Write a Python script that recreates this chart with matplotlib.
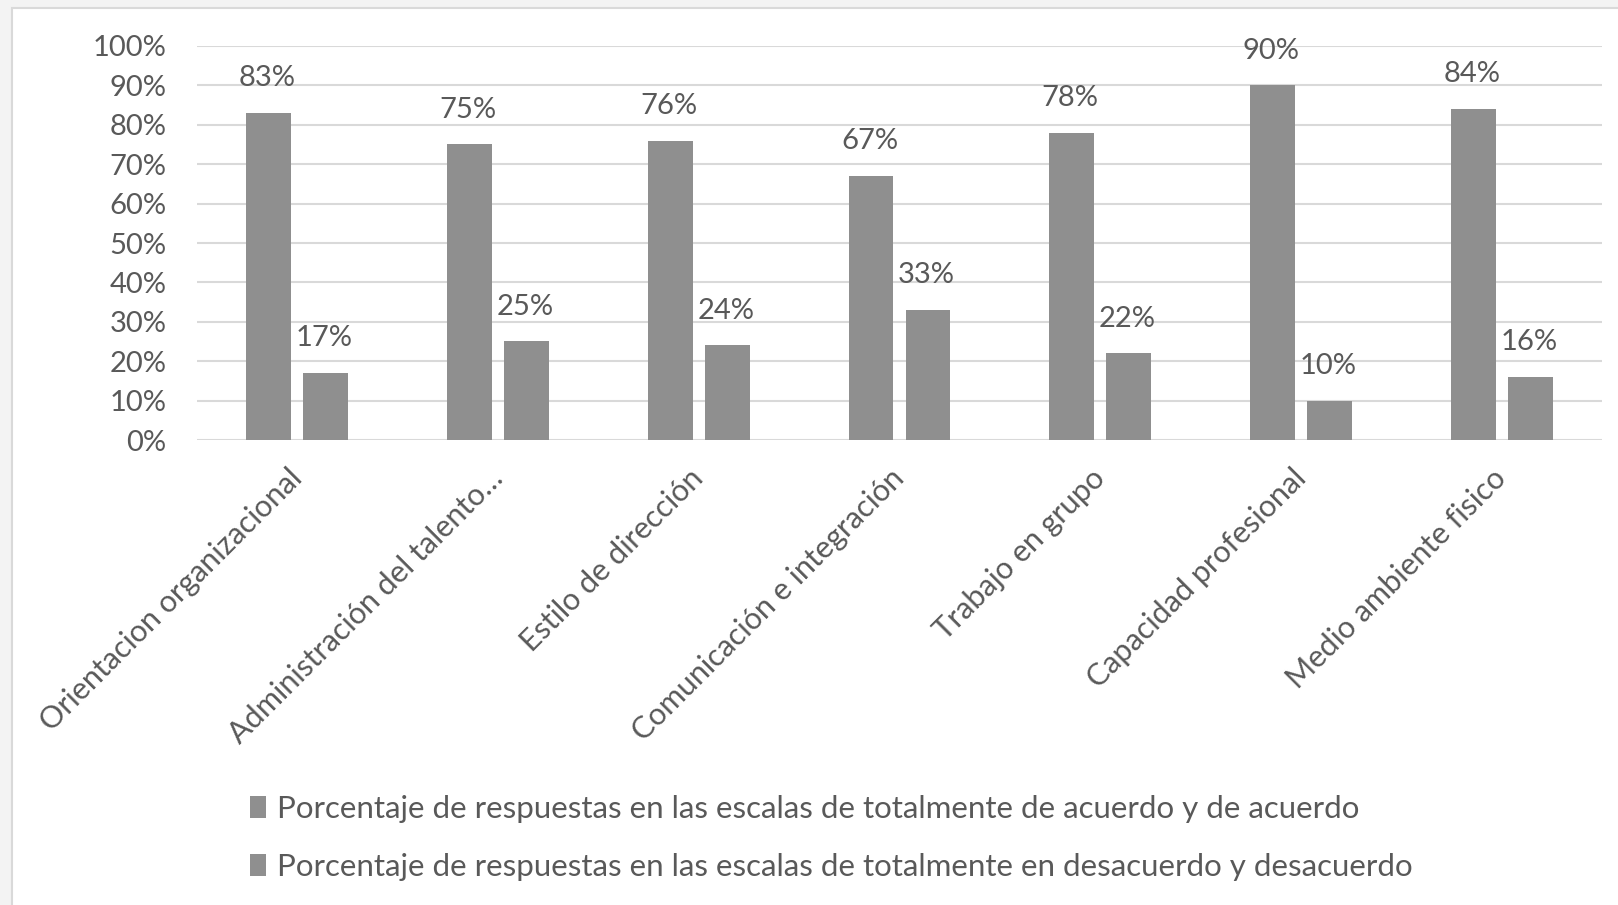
import numpy as np
import matplotlib.pyplot as plt
from matplotlib.patches import Rectangle, Patch
from matplotlib.transforms import ScaledTranslation

categories = [
    "Orientacion organizacional",
    "Administración del talento…",
    "Estilo de dirección",
    "Comunicación e integración",
    "Trabajo en grupo",
    "Capacidad profesional",
    "Medio ambiente fisico",
]
acuerdo = [0.83, 0.75, 0.76, 0.67, 0.78, 0.90, 0.84]
desacuerdo = [0.17, 0.25, 0.24, 0.33, 0.22, 0.10, 0.16]
series_names = [
    "Porcentaje de respuestas en las escalas de totalmente de acuerdo y de acuerdo",
    "Porcentaje de respuestas en las escalas de totalmente en desacuerdo y desacuerdo",
]
yticks = np.arange(0, 1.01, 0.1)

plt.rcParams["font.family"] = ["Lato", "DejaVu Sans"]
text_color = "#595959"
bar_color = "#8f8f8f"
fs = 21

fig = plt.figure(figsize=(16.18, 9.05), dpi=100, facecolor="#f3f3f3")
# white chart area with light border, behind the axes
fig.patches.append(
    Rectangle((12 / 1618, -0.01), 1.0, 1 - 8 / 905 + 0.01, transform=fig.transFigure,
              facecolor="white", edgecolor="#d9d9d9", linewidth=1.5, zorder=-10)
)

ax = fig.add_axes([197 / 1618, 1 - 440 / 905, (1602 - 197) / 1618, (440 - 46) / 905])
ax.patch.set_alpha(0)

x = np.arange(len(categories))
width = 0.224
offset = 0.142
bars1 = ax.bar(x - offset, acuerdo, width, color=bar_color, zorder=2)
bars2 = ax.bar(x + offset, desacuerdo, width, color=bar_color, zorder=2)

for bars, vals in [(bars1, acuerdo), (bars2, desacuerdo)]:
    for b, v in zip(bars, vals):
        ax.annotate(f"{v * 100:.0f}%", (b.get_x() + b.get_width() / 2, v),
                    xytext=(-1, 25), textcoords="offset points",
                    ha="center", va="center", fontsize=fs, color=text_color)

ax.set_xlim(-0.5, len(categories) - 0.5)
ax.set_ylim(0, 1)
ax.set_yticks(yticks)
ax.set_yticklabels([f"{t * 100:.0f}%" for t in yticks], fontsize=fs, color=text_color)
ax.grid(axis="y", color="#d9d9d9", linewidth=1.5, zorder=0)
ax.tick_params(axis="y", length=0, pad=22)
ax.tick_params(axis="x", length=0, pad=17)
ax.set_xticks(x)
ax.set_xticklabels(categories, rotation=45, ha="right", rotation_mode="anchor",
                   fontsize=22, color=text_color)
# nudge the slanted labels a little to the left
shift = ScaledTranslation(-7 / 72, 0, fig.dpi_scale_trans)
for lbl in ax.get_xticklabels():
    lbl.set_transform(lbl.get_transform() + shift)
for s in ax.spines.values():
    s.set_visible(False)

handles = [Patch(facecolor=bar_color, edgecolor="none") for _ in series_names]
fig.legend(handles, series_names, loc="upper left", bbox_to_anchor=(222 / 1618, 1 - 767 / 905),
           frameon=False, fontsize=22.5, labelcolor=text_color, handlelength=0.5,
           handleheight=0.7, handletextpad=0.35, labelspacing=0.95)

fig.savefig("out.png", dpi=100, facecolor=fig.get_facecolor())
